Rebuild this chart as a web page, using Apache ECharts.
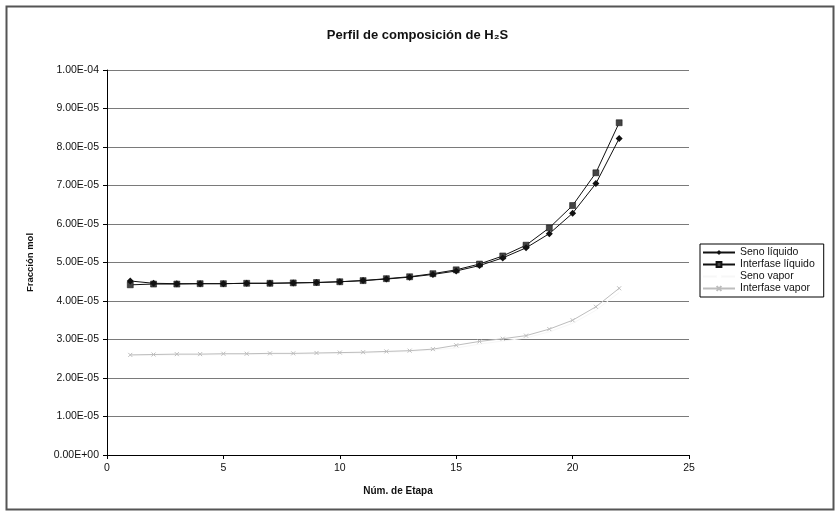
<!DOCTYPE html>
<html>
<head>
<meta charset="utf-8">
<script src="https://cdn.jsdelivr.net/npm/echarts@6/dist/echarts.min.js"></script>
<style>html,body{margin:0;padding:0;background:#fff}#c{width:835px;height:511px}</style>
</head>
<body>
<div id="c"></div>
<script>
const etapas = [1,2,3,4,5,6,7,8,9,10,11,12,13,14,15,16,17,18,19,20,21,22];
const senoLiquido = [4.52,4.46,4.45,4.45,4.45,4.46,4.46,4.47,4.48,4.50,4.53,4.57,4.62,4.69,4.78,4.92,5.12,5.38,5.75,6.28,7.05,8.22];
const interfaseLiquido = [4.42,4.44,4.44,4.45,4.45,4.46,4.46,4.47,4.48,4.50,4.53,4.58,4.63,4.71,4.81,4.96,5.17,5.45,5.90,6.48,7.33,8.63];
const senoVapor = [2.58,2.59,2.60,2.60,2.61,2.61,2.62,2.62,2.63,2.64,2.65,2.67,2.69,2.73,2.78,2.88,2.96,3.04,3.20,3.42,3.76,4.22];
const interfaseVapor = [2.60,2.61,2.62,2.62,2.63,2.63,2.64,2.64,2.65,2.66,2.67,2.69,2.71,2.75,2.85,2.95,3.02,3.10,3.27,3.50,3.85,4.33];
const scale = 1e-5;
const yTicks = {min: 0, max: 1e-4, interval: 1e-5};
const xTicks = {min: 0, max: 25, interval: 5};

function pts(arr){ return etapas.map((x,i)=>[x, arr[i]*scale]); }
function fmtE(v){
  let s = Number(v).toExponential(2).toUpperCase();
  return s.replace(/E([+-])(\d)$/, 'E$10$2');
}
const FONT = 'Liberation Sans, Arial, sans-serif';
const crossPath = 'path://M0,0L10,10M10,0L0,10';

const chart = echarts.init(document.getElementById('c'));
chart.setOption({
  animation: false,
  backgroundColor: '#fff',
  title: {
    text: 'Perfil de composición de H\u2082S',
    left: 'center', top: 24,
    textStyle: {fontFamily: FONT, fontSize: 13, fontWeight: 'bold', color: '#111'}
  },
  graphic: [{
    type: 'rect', left: 4, top: 4, z: -1,
    shape: {width: 827, height: 503},
    style: {fill: 'none', stroke: '#555', lineWidth: 2}
  }],
  grid: {left: 107, right: 146, top: 70, bottom: 56},
  legend: {
    orient: 'vertical', left: 700, top: 244,
    itemWidth: 32, itemHeight: 6, itemGap: 1,
    padding: [3, 9, 3, 2],
    borderColor: '#000', borderWidth: 1,
    textStyle: {fontFamily: FONT, fontSize: 10.5, color: '#111', padding: [0,0,0,0]},
    data: ['Seno líquido','Interfase líquido','Seno vapor','Interfase vapor']
  },
  xAxis: {
    type: 'value', min: xTicks.min, max: xTicks.max, interval: xTicks.interval,
    name: 'Núm. de Etapa', nameLocation: 'middle', nameGap: 31,
    nameTextStyle: {fontFamily: FONT, fontSize: 10, fontWeight: 'bold', color: '#111'},
    axisLine: {lineStyle: {color: '#000', width: 1}},
    axisTick: {show: true, inside: false, length: 4, lineStyle: {color: '#000'}},
    axisLabel: {fontFamily: FONT, fontSize: 10.5, color: '#111', margin: 8},
    splitLine: {show: false}
  },
  yAxis: {
    type: 'value', min: yTicks.min, max: yTicks.max, interval: yTicks.interval,
    name: 'Fracción mol', nameLocation: 'middle', nameGap: 72, nameRotate: 90,
    nameTextStyle: {fontFamily: FONT, fontSize: 9.5, fontWeight: 'bold', color: '#111'},
    axisLine: {show: true, lineStyle: {color: '#000', width: 1}},
    axisTick: {show: true, inside: false, length: 4, lineStyle: {color: '#000'}},
    axisLabel: {fontFamily: FONT, fontSize: 10.5, color: '#111', margin: 8, formatter: fmtE},
    splitLine: {show: true, lineStyle: {color: '#7a7a7a', width: 1}}
  },
  series: [
    {
      name: 'Seno líquido', type: 'line', data: pts(senoLiquido),
      symbol: 'diamond', symbolSize: 7,
      lineStyle: {color: '#111', width: 1}, itemStyle: {color: '#111'}, z: 4
    },
    {
      name: 'Interfase líquido', type: 'line', data: pts(interfaseLiquido),
      symbol: 'rect', symbolSize: 6,
      lineStyle: {color: '#111', width: 1}, itemStyle: {color: '#444', borderColor: '#111', borderWidth: 0.5}, z: 3
    },
    {
      name: 'Seno vapor', type: 'line', data: pts(senoVapor),
      symbol: 'none',
      lineStyle: {color: '#f7f7f7', width: 1}, itemStyle: {color: '#ffffff'}, z: 1
    },
    {
      name: 'Interfase vapor', type: 'line', data: pts(interfaseVapor),
      symbol: crossPath, symbolSize: 4,
      lineStyle: {color: '#bdbdbd', width: 1}, itemStyle: {color: '#bdbdbd', borderColor: '#bdbdbd', borderWidth: 1}, z: 2
    }
  ]
});
</script>
</body>
</html>
